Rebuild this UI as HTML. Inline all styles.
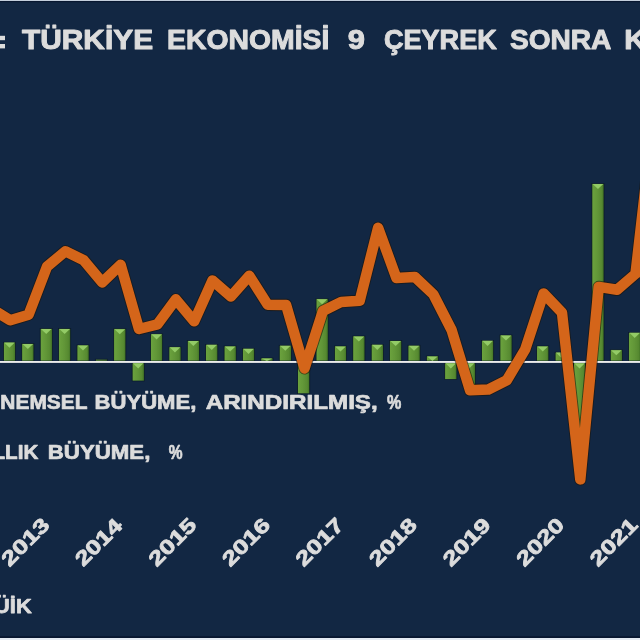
<!DOCTYPE html>
<html><head><meta charset="utf-8"><title>chart</title>
<style>
html,body{margin:0;padding:0;background:#122743;}
body{width:640px;height:640px;overflow:hidden;position:relative;}
svg{position:absolute;left:0;top:0;display:block;filter:blur(0.45px);}
text{font-family:"Liberation Sans",sans-serif;font-weight:bold;fill:#dcdcdc;stroke:#dcdcdc;stroke-linejoin:round;}
</style></head><body>
<svg width="640" height="640" viewBox="0 0 640 640">
<defs>
<linearGradient id="bg" x1="0" y1="0" x2="1" y2="0">
<stop offset="0" stop-color="#335f1d"/><stop offset="0.07" stop-color="#6aa13d"/>
<stop offset="0.45" stop-color="#629738"/><stop offset="0.8" stop-color="#578a31"/>
<stop offset="0.94" stop-color="#467828"/><stop offset="1" stop-color="#2c5518"/>
</linearGradient>
</defs>
<rect x="0" y="0" width="640" height="640" fill="#122743"/>
<rect x="0" y="0" width="640" height="1" fill="#c3cedc"/>
<rect x="0" y="1" width="640" height="1.2" fill="#081730"/>
<rect x="0" y="636.2" width="640" height="1.8" fill="#081730"/>
<rect x="0" y="638" width="640" height="2" fill="#e4ebf3"/>

<rect x="3.35" y="342.20" width="12.2" height="18.80" fill="url(#bg)" stroke="#0b182c" stroke-width="0.7"/>
<path d="M4.15 342.60 L14.75 342.60 L9.45 347.70 Z" fill="#93cb66"/>
<rect x="21.74" y="343.50" width="12.2" height="17.50" fill="url(#bg)" stroke="#0b182c" stroke-width="0.7"/>
<path d="M22.54 343.90 L33.14 343.90 L27.84 349.00 Z" fill="#93cb66"/>
<rect x="40.13" y="328.50" width="12.2" height="32.50" fill="url(#bg)" stroke="#0b182c" stroke-width="0.7"/>
<path d="M40.93 328.90 L51.53 328.90 L46.23 334.00 Z" fill="#93cb66"/>
<rect x="58.52" y="328.50" width="12.2" height="32.50" fill="url(#bg)" stroke="#0b182c" stroke-width="0.7"/>
<path d="M59.32 328.90 L69.92 328.90 L64.62 334.00 Z" fill="#93cb66"/>
<rect x="76.91" y="345.00" width="12.2" height="16.00" fill="url(#bg)" stroke="#0b182c" stroke-width="0.7"/>
<path d="M77.71 345.40 L88.31 345.40 L83.01 350.50 Z" fill="#93cb66"/>
<rect x="95.30" y="359.20" width="12.2" height="1.80" fill="url(#bg)" stroke="#0b182c" stroke-width="0.7"/>
<rect x="113.69" y="328.75" width="12.2" height="32.25" fill="url(#bg)" stroke="#0b182c" stroke-width="0.7"/>
<path d="M114.49 329.15 L125.09 329.15 L119.79 334.25 Z" fill="#93cb66"/>
<rect x="132.08" y="362.90" width="12.2" height="18.10" fill="url(#bg)" stroke="#0b182c" stroke-width="0.7"/>
<path d="M132.88 363.30 L143.48 363.30 L138.18 368.40 Z" fill="#93cb66"/>
<rect x="150.47" y="333.90" width="12.2" height="27.10" fill="url(#bg)" stroke="#0b182c" stroke-width="0.7"/>
<path d="M151.27 334.30 L161.87 334.30 L156.57 339.40 Z" fill="#93cb66"/>
<rect x="168.86" y="346.90" width="12.2" height="14.10" fill="url(#bg)" stroke="#0b182c" stroke-width="0.7"/>
<path d="M169.66 347.30 L180.26 347.30 L174.96 352.40 Z" fill="#93cb66"/>
<rect x="187.25" y="340.60" width="12.2" height="20.40" fill="url(#bg)" stroke="#0b182c" stroke-width="0.7"/>
<path d="M188.05 341.00 L198.65 341.00 L193.35 346.10 Z" fill="#93cb66"/>
<rect x="205.64" y="344.40" width="12.2" height="16.60" fill="url(#bg)" stroke="#0b182c" stroke-width="0.7"/>
<path d="M206.44 344.80 L217.04 344.80 L211.74 349.90 Z" fill="#93cb66"/>
<rect x="224.03" y="346.00" width="12.2" height="15.00" fill="url(#bg)" stroke="#0b182c" stroke-width="0.7"/>
<path d="M224.83 346.40 L235.43 346.40 L230.13 351.50 Z" fill="#93cb66"/>
<rect x="242.42" y="348.40" width="12.2" height="12.60" fill="url(#bg)" stroke="#0b182c" stroke-width="0.7"/>
<path d="M243.22 348.80 L253.82 348.80 L248.52 353.90 Z" fill="#93cb66"/>
<rect x="260.81" y="358.00" width="12.2" height="3.00" fill="url(#bg)" stroke="#0b182c" stroke-width="0.7"/>
<path d="M261.61 358.40 L272.21 358.40 L266.91 361.00 Z" fill="#93cb66"/>
<rect x="279.20" y="345.30" width="12.2" height="15.70" fill="url(#bg)" stroke="#0b182c" stroke-width="0.7"/>
<path d="M280.00 345.70 L290.60 345.70 L285.30 350.80 Z" fill="#93cb66"/>
<rect x="297.59" y="362.90" width="12.2" height="30.85" fill="url(#bg)" stroke="#0b182c" stroke-width="0.7"/>
<path d="M298.39 363.30 L308.99 363.30 L303.69 368.40 Z" fill="#93cb66"/>
<rect x="315.98" y="298.75" width="12.2" height="62.25" fill="url(#bg)" stroke="#0b182c" stroke-width="0.7"/>
<path d="M316.78 299.15 L327.38 299.15 L322.08 304.25 Z" fill="#93cb66"/>
<rect x="334.37" y="346.00" width="12.2" height="15.00" fill="url(#bg)" stroke="#0b182c" stroke-width="0.7"/>
<path d="M335.17 346.40 L345.77 346.40 L340.47 351.50 Z" fill="#93cb66"/>
<rect x="352.76" y="336.00" width="12.2" height="25.00" fill="url(#bg)" stroke="#0b182c" stroke-width="0.7"/>
<path d="M353.56 336.40 L364.16 336.40 L358.86 341.50 Z" fill="#93cb66"/>
<rect x="371.15" y="344.40" width="12.2" height="16.60" fill="url(#bg)" stroke="#0b182c" stroke-width="0.7"/>
<path d="M371.95 344.80 L382.55 344.80 L377.25 349.90 Z" fill="#93cb66"/>
<rect x="389.54" y="340.60" width="12.2" height="20.40" fill="url(#bg)" stroke="#0b182c" stroke-width="0.7"/>
<path d="M390.34 341.00 L400.94 341.00 L395.64 346.10 Z" fill="#93cb66"/>
<rect x="407.93" y="345.30" width="12.2" height="15.70" fill="url(#bg)" stroke="#0b182c" stroke-width="0.7"/>
<path d="M408.73 345.70 L419.33 345.70 L414.03 350.80 Z" fill="#93cb66"/>
<rect x="426.32" y="356.00" width="12.2" height="5.00" fill="url(#bg)" stroke="#0b182c" stroke-width="0.7"/>
<path d="M427.12 356.40 L437.72 356.40 L432.42 361.00 Z" fill="#93cb66"/>
<rect x="444.71" y="362.90" width="12.2" height="16.50" fill="url(#bg)" stroke="#0b182c" stroke-width="0.7"/>
<path d="M445.51 363.30 L456.11 363.30 L450.81 368.40 Z" fill="#93cb66"/>
<rect x="463.10" y="362.90" width="12.2" height="23.10" fill="url(#bg)" stroke="#0b182c" stroke-width="0.7"/>
<path d="M463.90 363.30 L474.50 363.30 L469.20 368.40 Z" fill="#93cb66"/>
<rect x="481.49" y="340.40" width="12.2" height="20.60" fill="url(#bg)" stroke="#0b182c" stroke-width="0.7"/>
<path d="M482.29 340.80 L492.89 340.80 L487.59 345.90 Z" fill="#93cb66"/>
<rect x="499.88" y="335.00" width="12.2" height="26.00" fill="url(#bg)" stroke="#0b182c" stroke-width="0.7"/>
<path d="M500.68 335.40 L511.28 335.40 L505.98 340.50 Z" fill="#93cb66"/>
<rect x="536.66" y="346.00" width="12.2" height="15.00" fill="url(#bg)" stroke="#0b182c" stroke-width="0.7"/>
<path d="M537.46 346.40 L548.06 346.40 L542.76 351.50 Z" fill="#93cb66"/>
<rect x="555.05" y="352.20" width="12.2" height="8.80" fill="url(#bg)" stroke="#0b182c" stroke-width="0.7"/>
<path d="M555.85 352.60 L566.45 352.60 L561.15 357.70 Z" fill="#93cb66"/>
<rect x="573.44" y="362.90" width="12.2" height="99.10" fill="url(#bg)" stroke="#0b182c" stroke-width="0.7"/>
<path d="M574.24 363.30 L584.84 363.30 L579.54 368.40 Z" fill="#93cb66"/>
<rect x="591.83" y="183.60" width="12.2" height="177.40" fill="url(#bg)" stroke="#0b182c" stroke-width="0.7"/>
<path d="M592.63 184.00 L603.23 184.00 L597.93 189.10 Z" fill="#93cb66"/>
<rect x="610.22" y="349.80" width="12.2" height="11.20" fill="url(#bg)" stroke="#0b182c" stroke-width="0.7"/>
<path d="M611.02 350.20 L621.62 350.20 L616.32 355.30 Z" fill="#93cb66"/>
<rect x="628.61" y="332.40" width="12.2" height="28.60" fill="url(#bg)" stroke="#0b182c" stroke-width="0.7"/>
<path d="M629.41 332.80 L640.01 332.80 L634.71 337.90 Z" fill="#93cb66"/>
<rect x="0" y="361.0" width="640" height="1.90" fill="#ececec"/>
<polyline points="-8.1,309.0 10.2,320.3 28.6,314.7 47.0,266.6 65.4,251.3 83.8,260.3 102.2,282.4 120.6,264.8 139.0,329.0 157.4,324.4 175.8,299.3 194.2,321.3 212.5,280.5 230.9,296.5 249.3,275.8 267.7,304.8 286.1,305.0 304.5,368.4 322.9,311.0 341.3,301.9 359.7,300.7 378.1,227.8 396.4,278.0 414.8,276.9 433.2,294.2 451.6,330.0 470.0,390.2 488.4,389.5 506.8,380.3 525.2,349.4 543.6,293.4 562.0,312.7 580.3,479.4 598.7,286.9 617.1,289.8 635.5,273.9 653.9,114.0" fill="none" stroke="#1c1408" stroke-opacity="0.6" stroke-width="12.3" stroke-linejoin="round" stroke-linecap="round"/>
<polyline points="-8.1,309.0 10.2,320.3 28.6,314.7 47.0,266.6 65.4,251.3 83.8,260.3 102.2,282.4 120.6,264.8 139.0,329.0 157.4,324.4 175.8,299.3 194.2,321.3 212.5,280.5 230.9,296.5 249.3,275.8 267.7,304.8 286.1,305.0 304.5,368.4 322.9,311.0 341.3,301.9 359.7,300.7 378.1,227.8 396.4,278.0 414.8,276.9 433.2,294.2 451.6,330.0 470.0,390.2 488.4,389.5 506.8,380.3 525.2,349.4 543.6,293.4 562.0,312.7 580.3,479.4 598.7,286.9 617.1,289.8 635.5,273.9 653.9,114.0" fill="none" stroke="#d4651a" stroke-width="10.5" stroke-linejoin="round" stroke-linecap="round"/>
<rect x="-1" y="35.8" width="6" height="4.4" fill="#dcdcdc"/><rect x="-1" y="44" width="6" height="4.4" fill="#dcdcdc"/>
<text x="22.00" y="48.5" font-size="27.4" stroke-width="1.0" textLength="131.06" lengthAdjust="spacingAndGlyphs">TÜRKİYE</text>
<text x="167.07" y="48.5" font-size="27.4" stroke-width="1.0" textLength="162.31" lengthAdjust="spacingAndGlyphs">EKONOMİSİ</text>
<text x="347.89" y="48.5" font-size="27.4" stroke-width="1.0" textLength="17.17" lengthAdjust="spacingAndGlyphs">9</text>
<text x="383.91" y="48.5" font-size="27.4" stroke-width="1.0" textLength="112.90" lengthAdjust="spacingAndGlyphs">ÇEYREK</text>
<text x="509.95" y="48.5" font-size="27.4" stroke-width="1.0" textLength="101.41" lengthAdjust="spacingAndGlyphs">SONRA</text>
<text x="624.35" y="48.5" font-size="27.4" stroke-width="1.0" textLength="21.67" lengthAdjust="spacingAndGlyphs">K</text>
<text x="0.37" y="409.3" font-size="19.6" stroke-width="0.7" textLength="87.19" lengthAdjust="spacingAndGlyphs">NEMSEL</text>
<text x="94.57" y="409.3" font-size="19.6" stroke-width="0.7" textLength="101.81" lengthAdjust="spacingAndGlyphs">BÜYÜME,</text>
<text x="205.70" y="409.3" font-size="19.6" stroke-width="0.7" textLength="172.02" lengthAdjust="spacingAndGlyphs">ARINDIRILMIŞ,</text>
<text x="386.97" y="409.3" font-size="19.6" stroke-width="0.7" textLength="14.31" lengthAdjust="spacingAndGlyphs">%</text>
<text x="47.81" y="459.0" font-size="19.6" stroke-width="0.7" textLength="102.58" lengthAdjust="spacingAndGlyphs">BÜYÜME,</text>
<text x="168.72" y="459.0" font-size="19.6" stroke-width="0.7" textLength="13.80" lengthAdjust="spacingAndGlyphs">%</text>
<text x="-7.57" y="459.0" font-size="19.6" stroke-width="0.7" textLength="45.85" lengthAdjust="spacingAndGlyphs">LLIK</text>
<text x="-5.91" y="612.6" font-size="20.7" stroke-width="0.75" textLength="37.57" lengthAdjust="spacingAndGlyphs">ÜİK</text>
<text transform="translate(25.10 541.8) rotate(-45)" x="-29.07" y="7.1" font-size="20.2" stroke-width="0.8" textLength="58.30" lengthAdjust="spacingAndGlyphs">2013</text>
<text transform="translate(98.65 541.8) rotate(-45)" x="-29.06" y="7.1" font-size="20.2" stroke-width="0.8" textLength="57.25" lengthAdjust="spacingAndGlyphs">2014</text>
<text transform="translate(172.20 541.8) rotate(-45)" x="-29.07" y="7.1" font-size="20.2" stroke-width="0.8" textLength="58.03" lengthAdjust="spacingAndGlyphs">2015</text>
<text transform="translate(245.75 541.8) rotate(-45)" x="-29.07" y="7.1" font-size="20.2" stroke-width="0.8" textLength="58.30" lengthAdjust="spacingAndGlyphs">2016</text>
<text transform="translate(319.30 541.8) rotate(-45)" x="-29.07" y="7.1" font-size="20.2" stroke-width="0.8" textLength="58.30" lengthAdjust="spacingAndGlyphs">2017</text>
<text transform="translate(392.85 541.8) rotate(-45)" x="-29.07" y="7.1" font-size="20.2" stroke-width="0.8" textLength="58.03" lengthAdjust="spacingAndGlyphs">2018</text>
<text transform="translate(466.40 541.8) rotate(-45)" x="-29.07" y="7.1" font-size="20.2" stroke-width="0.8" textLength="58.30" lengthAdjust="spacingAndGlyphs">2019</text>
<text transform="translate(539.95 541.8) rotate(-45)" x="-29.07" y="7.1" font-size="20.2" stroke-width="0.8" textLength="58.30" lengthAdjust="spacingAndGlyphs">2020</text>
<text transform="translate(613.50 541.8) rotate(-45)" x="-29.07" y="7.1" font-size="20.2" stroke-width="0.8" textLength="58.03" lengthAdjust="spacingAndGlyphs">2021</text>
</svg></body></html>
